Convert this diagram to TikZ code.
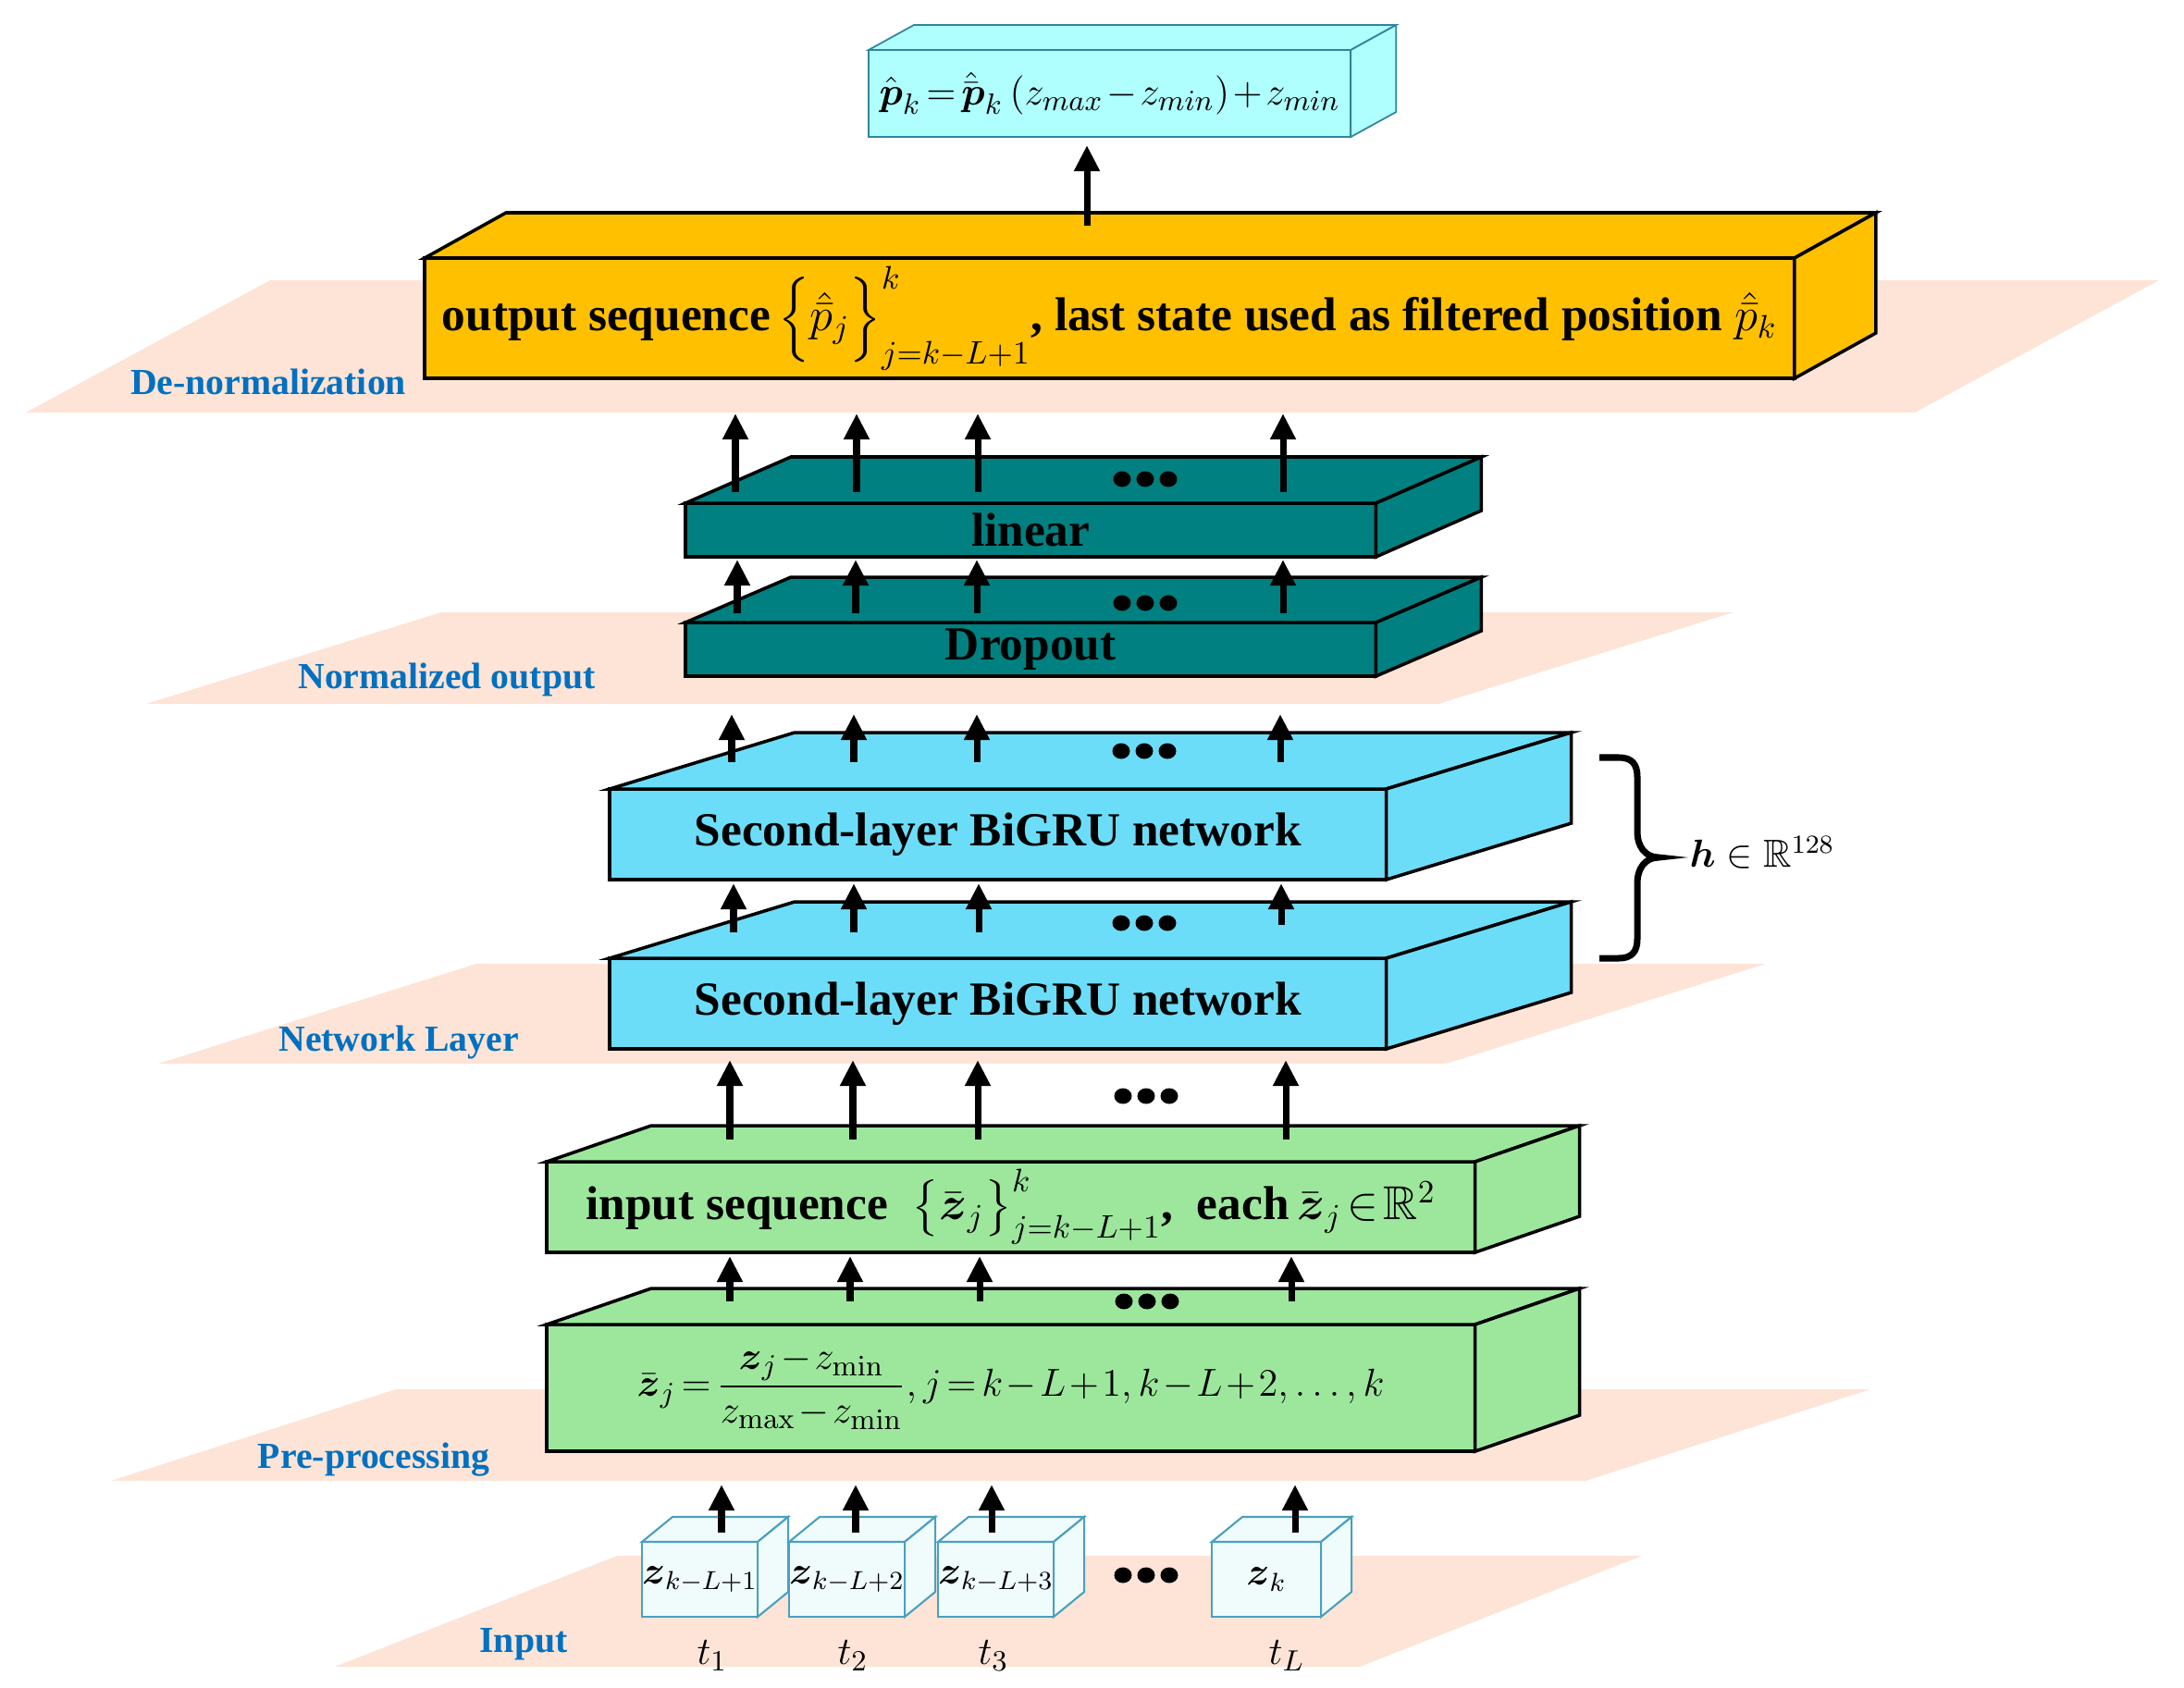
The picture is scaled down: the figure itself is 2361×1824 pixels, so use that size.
\documentclass[tikz,border=0pt]{standalone}
\usepackage{amsmath}
\usepackage{amssymb}
\usepackage[no-math]{fontspec}
\setmainfont{Liberation Serif}
\usetikzlibrary{arrows.meta, calc}
\definecolor{planorosa}{RGB}{253,228,214}
\definecolor{etiqazul}{RGB}{0,112,192}
\definecolor{cianclaro}{RGB}{175,255,255}
\definecolor{cianbord}{RGB}{49,133,155}
\definecolor{naranja}{RGB}{255,192,0}
\definecolor{tealcapa}{RGB}{0,128,128}
\definecolor{azulgru}{RGB}{108,221,248}
\definecolor{verdecapa}{RGB}{157,231,157}
\definecolor{cubofill}{RGB}{240,252,252}
\definecolor{cubobord}{RGB}{75,160,190}

\begin{document}
\begin{tikzpicture}[
  x=0.01cm, y=-0.01cm,
  plano/.style={fill=planorosa},
  etiq/.style={text=etiqazul, font=\fontsize{11.3}{13}\selectfont\bfseries},
  capa/.style={rectangle, draw=black, line width=1pt, outer sep=0pt, inner sep=0pt, anchor=north west, font=\fontsize{14.6}{17}\selectfont\bfseries},
  formula/.style={font=\fontsize{12.5}{15}\selectfont, execute at begin node={\medmuskip=1.5mu\relax\thickmuskip=2.5mu\relax}},
  cara/.style={draw=black, line width=1pt},
  caja/.style={rectangle, draw=cubobord, fill=cubofill, line width=0.6pt, outer sep=0pt, inner sep=0pt, anchor=north west, minimum width=1.18cm, minimum height=0.81cm, font=\fontsize{12}{14}\selectfont},
  flecha/.style={-{Triangle[length=8pt, width=7.5pt]}, line width=2pt},
  tiempo/.style={font=\fontsize{12.5}{14}\selectfont}
]
  \useasboundingbox (0,0) rectangle (2361,1824);

  % Planos de fondo
  \fill[plano] (292,303) -- (2334,303) -- (2070,446) -- (28,446) -- cycle;
  \fill[plano] (477,662) -- (1874,662) -- (1555,761) -- (158,761) -- cycle;
  \fill[plano] (515,1042) -- (1909,1042) -- (1563,1150) -- (171,1150) -- cycle;
  \fill[plano] (428,1502) -- (2022,1502) -- (1714,1601) -- (120,1601) -- cycle;
  \fill[plano] (667,1682) -- (1775,1682) -- (1470,1802) -- (362,1802) -- cycle;

  % Etiquetas de los planos
  \node[etiq] (lbden) at (290,413) {De-normalization};
  \node[etiq] (lbnorm) at (483,735) {Normalized output};
  \node[etiq] (lbnet) at (431,1127) {Network Layer};
  \node[etiq] (lbpre) at (404,1578) {Pre-processing};
  \node[etiq] (lbin) at (566,1778) {Input};

  % Capas (cara frontal)
  \node[capa, draw=cianbord, line width=0.5pt, fill=cianclaro, formula, minimum width=5.21cm, minimum height=0.94cm] (top) at (939,54)
    {$\hat{\boldsymbol{p}}_k = \hat{\bar{\boldsymbol{p}}}_k \left(z_{max} - z_{min}\right) + z_{min}$};
  \node[capa, fill=naranja, minimum width=14.80cm, minimum height=1.30cm] (out) at (459,279)
    {output sequence\,$\Bigl\{\hat{\bar{p}}_j\Bigr\}_{j=k-L+1}^{k}$, last state used as filtered position~$\hat{\bar{p}}_k$};
  \node[capa, fill=tealcapa, minimum width=7.46cm, minimum height=0.58cm] (lin) at (741,544) {linear};
  \node[capa, fill=tealcapa, minimum width=7.46cm, minimum height=0.58cm] (drop) at (741,673) {Dropout};
  \node[capa, fill=azulgru, minimum width=8.39cm, minimum height=0.98cm] (up) at (659,853) {Second-layer BiGRU network};
  \node[capa, fill=azulgru, minimum width=8.39cm, minimum height=0.98cm] (low) at (659,1036) {Second-layer BiGRU network};
  \node[capa, fill=verdecapa, minimum width=10.03cm, minimum height=0.98cm] (inseq) at (591,1256)
    {input sequence\enspace$\bigl\{\bar{\boldsymbol{z}}_j\bigr\}_{j=k-L+1}^{k}$,\enspace each\,$\bar{\boldsymbol{z}}_j\!\in\!\mathbb{R}^2$};
  \node[capa, fill=verdecapa, formula, minimum width=10.03cm, minimum height=1.37cm] (pre) at (591,1432)
    {$\bar{\boldsymbol{z}}_j = \dfrac{\boldsymbol{z}_j - z_{\min}}{z_{\max} - z_{\min}}, j = k-L+1, k-L+2, \ldots, k$};

  % Caras superior y lateral
  \foreach \n/\dx/\dy/\c in {out/88/-49/naranja, lin/114/-50/tealcapa, drop/114/-49/tealcapa, up/200/-61/azulgru, low/200/-61/azulgru, inseq/113/-39/verdecapa, pre/113/-39/verdecapa} {
    \draw[cara, fill=\c] (\n.north west) -- ++(\dx,\dy) -- ($(\n.north east)+(\dx,\dy)$) -- (\n.north east) -- cycle;
    \draw[cara, fill=\c] (\n.north east) -- ++(\dx,\dy) -- ($(\n.south east)+(\dx,\dy)$) -- (\n.south east) -- cycle;
  }
  \draw[draw=cianbord, line width=0.5pt, fill=cianclaro] (top.north west) -- ++(49,-27) -- ($(top.north east)+(49,-27)$) -- (top.north east) -- cycle;
  \draw[draw=cianbord, line width=0.5pt, fill=cianclaro] (top.north east) -- ++(49,-27) -- ($(top.south east)+(49,-27)$) -- (top.south east) -- cycle;

  % Entradas
  \node[caja] (c1) at (694,1667) {$\boldsymbol{z}_{k-L+1}$};
  \node[caja] (c2) at (853,1667) {$\boldsymbol{z}_{k-L+2}$};
  \node[caja] (c3) at (1014,1667) {$\boldsymbol{z}_{k-L+3}$};
  \node[caja] (c4) at (1310,1667) {$\boldsymbol{z}_{k}$};
  \foreach \n in {c1,c2,c3,c4} {
    \draw[draw=cubobord, line width=0.6pt, fill=cubofill] (\n.north west) -- ++(33,-27) -- ($(\n.north east)+(33,-27)$) -- (\n.north east) -- cycle;
    \draw[draw=cubobord, line width=0.6pt, fill=cubofill] (\n.north east) -- ++(33,-27) -- ($(\n.south east)+(33,-27)$) -- (\n.south east) -- cycle;
  }
  \node[tiempo] (t1) at (770,1790) {$t_1$};
  \node[tiempo] (t2) at (922,1790) {$t_2$};
  \node[tiempo] (t3) at (1074,1790) {$t_3$};
  \node[tiempo] (tL) at (1391,1790) {$t_L$};

  % Flechas entre capas
  \foreach \c/\x in {c1/780, c2/925, c3/1072, c4/1400}
    \draw[flecha] ($(\x,0 |- \c.north)+(0,-10)$) -- ($(\x,0 |- pre.south)+(0,36)$);
  \foreach \x in {789,919,1059,1396}
    \draw[flecha] ($(\x,0 |- pre.north)+(0,-25)$) -- ($(\x,0 |- inseq.south)+(0,4)$);
  \foreach \x in {789,922,1057,1390}
    \draw[flecha] ($(\x,0 |- inseq.north)+(0,-24)$) -- ($(\x,0 |- low.south)+(0,12)$);
  \foreach \x/\s in {793/28, 923/28, 1058/28, 1385/36}
    \draw[flecha] ($(\x,0 |- low.north)+(0,-\s)$) -- ($(\x,0 |- up.south)+(0,4)$);
  \foreach \x in {791,923,1056,1384}
    \draw[flecha] ($(\x,0 |- up.north)+(0,-29)$) -- ($(\x,0 |- drop.south)+(0,41)$);
  \foreach \x in {797,925,1056,1387}
    \draw[flecha] ($(\x,0 |- drop.north)+(0,-10)$) -- ($(\x,0 |- lin.south)+(0,3)$);
  \foreach \x in {795,926,1057,1387}
    \draw[flecha] ($(\x,0 |- lin.north)+(0,-12)$) -- ($(\x,0 |- out.south)+(0,38)$);
  \draw[flecha] ($(1175,0 |- out.north)+(0,-35)$) -- ($(1175,0 |- top.south)+(0,9)$);

  % Puntos suspensivos
  \foreach \px/\py in {1238/518, 1238/652, 1237/812, 1237/998, 1239/1185, 1240/1407, 1239/1703}
    \foreach \k in {-1,0,1}
      \fill ({\px+25*\k},\py) ellipse [x radius=9.5, y radius=8.5];

  % Llave de la dimension oculta
  \draw[line width=2pt] (1729,819) -- (1750,819) .. controls (1764,819) and (1770,826) .. (1770,840) -- (1770,900)
    .. controls (1770,914) and (1778,927) .. (1793,927) .. controls (1778,927) and (1770,940) .. (1770,954)
    -- (1770,1015) .. controls (1770,1029) and (1764,1036) .. (1750,1036) -- (1729,1036);
  \node[font=\fontsize{12}{14}\selectfont] (hdim) at (1905,922) {$\boldsymbol{h} \in \mathbb{R}^{128}$};
\end{tikzpicture}
\end{document}
